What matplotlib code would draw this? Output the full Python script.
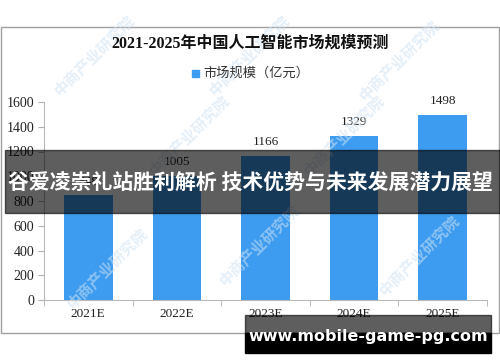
import matplotlib
matplotlib.use('Agg')
import matplotlib.pyplot as plt
from matplotlib.patches import Rectangle

# data
years = ['2021E', '2022E', '2023E', '2024E', '2025E']
market_size = [848, 1005, 1166, 1329, 1498]
y_ticks = [0, 200, 400, 600, 800, 1000, 1200, 1400, 1600]

title = '2021-2025年中国人工智能市场规模预测'
legend_label = '市场规模（亿元）'
banner_text = '谷爱凌崇礼站胜利解析 技术优势与未来发展潜力展望'
site_text = 'www.mobile-game-pg.com'

W, H = 500, 362
bar_color = '#3d9cf0'
serif = ['Liberation Serif', 'Noto Sans CJK SC']
cjk = ['Noto Sans CJK SC', 'DejaVu Sans']


def fx(x):
    return x / W


def fy(y):
    return 1 - y / H


fig = plt.figure(figsize=(5, 3.62), dpi=100)
fig.patch.set_facecolor('white')

# chart frame
fig.patches.append(Rectangle((fx(1), fy(333)), fx(498), 306 / H, transform=fig.transFigure,
                             fill=False, edgecolor='#a0a0a0', lw=1, zorder=0))

# faint watermarks
for wx, wy in [(95, 55), (250, 55), (400, 60), (190, 135), (345, 135),
               (108, 268), (260, 245), (420, 255)]:
    fig.text(fx(wx), fy(wy), '中商产业研究院', rotation=45, ha='center', va='center',
             fontsize=11, color='#cfe2f3', alpha=0.55, family=cjk, fontweight='bold', zorder=3)

ax = fig.add_axes([fx(44), fy(300), fx(443), (300 - 102) / H])
ax.set_facecolor('none')
x = range(len(years))
bars = ax.bar(x, market_size, width=0.55, color=bar_color, zorder=2)
for xi, v in zip(x, market_size):
    ax.text(xi, v + 60, str(v), ha='center', va='bottom', fontsize=9.5,
            family=serif, color='#222222')

ax.set_xlim(-0.5, len(years) - 0.5)
ax.set_ylim(0, 1600)
ax.set_yticks(y_ticks)
ax.set_yticklabels([str(t) for t in y_ticks], family=serif, fontsize=10, color='#222222')
ax.set_xticks(list(x))
ax.set_xticklabels(years, family=serif, fontsize=9.5, color='#222222')
ax.set_xticks([i - 0.5 for i in range(len(years) + 1)], minor=True)
ax.tick_params(axis='x', which='major', length=0, pad=6)
ax.tick_params(axis='x', which='minor', length=4, color='#b0b0b0', direction='out')
ax.tick_params(axis='y', length=4, color='#b0b0b0', pad=3)
for s in ['top', 'right']:
    ax.spines[s].set_visible(False)
ax.spines['left'].set_color('#b8b8b8')
ax.spines['bottom'].set_color('#b8b8b8')

# title and legend
fig.text(0.5, fy(44), title, ha='center', va='center', fontsize=11.5,
         fontweight='bold', family=serif, color='#111111')
fig.patches.append(Rectangle((fx(192), fy(77)), fx(7), 7 / H, transform=fig.transFigure,
                             color=bar_color))
fig.text(fx(203), fy(73), legend_label, ha='left', va='center', fontsize=9.5,
         family=cjk, color='#333333')

# overlay banners
fig.patches.append(Rectangle((fx(5), fy(213)), fx(495), 63 / H, transform=fig.transFigure,
                             color='black', alpha=0.63, zorder=5))
fig.text(fx(250), fy(182), banner_text, ha='center', va='center', fontsize=15,
         fontweight='bold', family=cjk, color='white', zorder=6)

fig.patches.append(Rectangle((fx(245), fy(333)), fx(246), 18 / H, transform=fig.transFigure,
                             color='black', alpha=0.63, zorder=5))
fig.patches.append(Rectangle((fx(245), fy(353)), fx(246), 20 / H, transform=fig.transFigure,
                             color='black', zorder=5))
fig.text(fx(368), fy(336), site_text, ha='center', va='center', fontsize=11.5,
         fontweight='bold', family=['DejaVu Sans'], color='white', zorder=6)

fig.savefig('out.png', dpi=100)
